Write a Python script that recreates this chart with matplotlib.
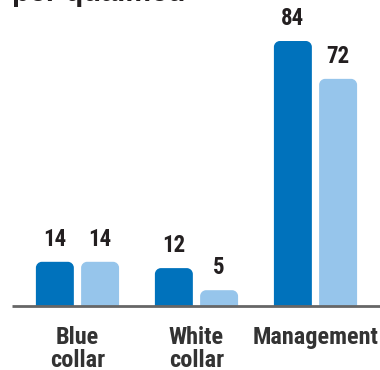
import matplotlib
matplotlib.use("Agg")
import matplotlib.pyplot as plt
import numpy as np
from matplotlib.path import Path
from matplotlib.patches import PathPatch

categories = ["Blue\ncollar", "White\ncollar", "Management"]
series_a = [14, 12, 84]
series_b = [14, 5, 72]

dark_blue = "#0072bc"
light_blue = "#96c5eb"
font = ["Roboto Condensed", "DejaVu Sans"]

fig = plt.figure(figsize=(3.8, 3.7), dpi=100)
ax = fig.add_axes([0, 0, 1, 1])
ax.set_xlim(-0.651, 2.542)
ax.set_ylim(-20.3, 97.0)
ax.axis("off")

x = np.arange(len(categories))
width = 0.319
bars_a = ax.bar(x - 0.19, series_a, width, color=dark_blue)
bars_b = ax.bar(x + 0.19, series_b, width, color=light_blue)


def round_top(rect, r_px=6):
    # swap a plain bar for one with rounded top corners
    x0, y0 = rect.get_x(), rect.get_y()
    w, h = rect.get_width(), rect.get_height()
    inv = ax.transData.inverted()
    p0 = inv.transform((0, 0))
    p1 = inv.transform((r_px, r_px))
    rx, ry = p1[0] - p0[0], p1[1] - p0[1]
    ry = min(ry, h / 2)
    k = 0.5523
    verts = [
        (x0, y0), (x0, y0 + h - ry),
        (x0, y0 + h - ry + k * ry), (x0 + rx - k * rx, y0 + h), (x0 + rx, y0 + h),
        (x0 + w - rx, y0 + h),
        (x0 + w - rx + k * rx, y0 + h), (x0 + w, y0 + h - ry + k * ry), (x0 + w, y0 + h - ry),
        (x0 + w, y0), (x0, y0),
    ]
    codes = [Path.MOVETO, Path.LINETO,
             Path.CURVE4, Path.CURVE4, Path.CURVE4,
             Path.LINETO,
             Path.CURVE4, Path.CURVE4, Path.CURVE4,
             Path.LINETO, Path.CLOSEPOLY]
    ax.add_patch(PathPatch(Path(verts, codes), facecolor=rect.get_facecolor(),
                           edgecolor="none", zorder=2))
    rect.set_visible(False)


for bars, vals in ((bars_a, series_a), (bars_b, series_b)):
    for rect, v in zip(bars, vals):
        round_top(rect)
        ax.text(rect.get_x() + rect.get_width() / 2, v + 3.5, str(v),
                ha="center", va="bottom", fontsize=16.5, fontweight="bold",
                color="#231f20", family=font)

# baseline
ax.plot([-0.548, 2.542], [0, 0], color="#666666", lw=2, zorder=3,
        solid_capstyle="butt")

for xi, name in zip(x, categories):
    ax.text(xi, -6.5, name, ha="center", va="top", fontsize=17.5,
            fontweight="bold", color="#333333", family=font, linespacing=1.0)

fig.text(0.032, (370 - 1) / 370, "per qualified", ha="left", va="baseline",
         fontsize=21, fontweight="bold", color="#231f20",
         family=["Liberation Sans", "DejaVu Sans"])

fig.savefig("out.png", dpi=100)
